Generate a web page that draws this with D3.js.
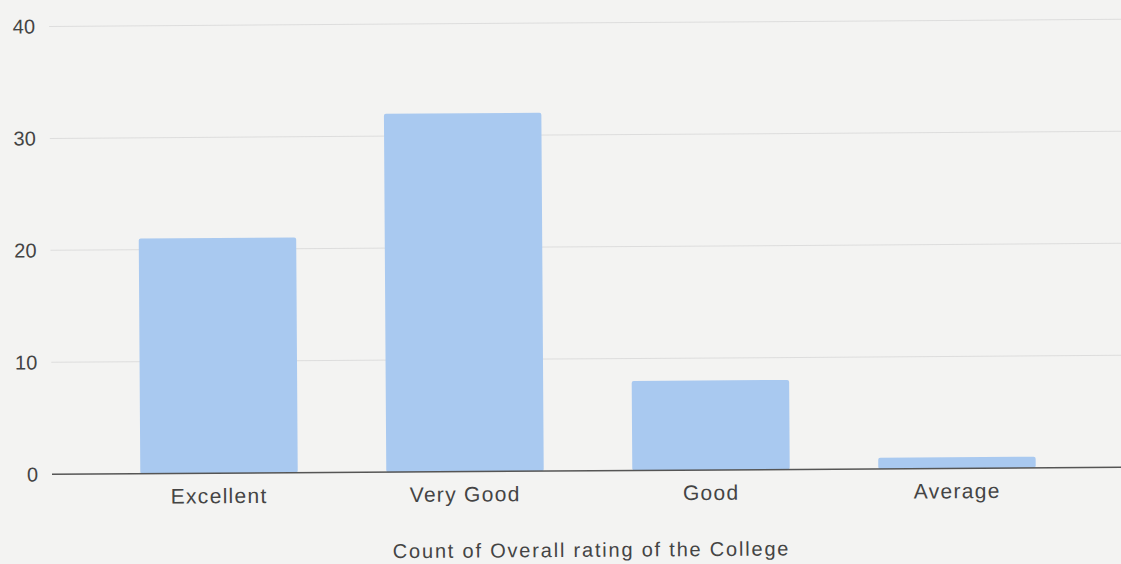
<!DOCTYPE html>
<html><head><meta charset="utf-8">
<script src="https://cdn.jsdelivr.net/npm/d3@7"></script>
<style>
html,body{margin:0;padding:0;background:#f3f3f2;}
svg{display:block;}
text{font-family:"Liberation Sans",Arial,sans-serif;fill:#444;}
</style></head>
<body>
<svg id="c" width="1121" height="564"></svg>
<script>
const categories = ["Excellent", "Very Good", "Good", "Average"];
const counts = [21, 32, 8, 1];
const yTicks = [0, 10, 20, 30, 40];
const xTitle = "Count of Overall rating of the College";

const svg = d3.select("#c");
svg.append("rect").attr("width",1121).attr("height",564).attr("fill","#f3f3f2");
const g = svg.append("g").attr("transform","rotate(-0.38 560 470)");

const x = d3.scaleBand().domain(categories).range([96, 1080]).paddingInner(0.36).paddingOuter(0.18);
const y = d3.scaleLinear().domain([0, 40]).range([471, 23]);

// gridlines
g.append("g").selectAll("line").data(yTicks.filter(d=>d>0)).join("line")
  .attr("x1",52).attr("x2",1125)
  .attr("y1",d=>y(d)).attr("y2",d=>y(d))
  .attr("stroke","#dddddd").attr("stroke-width",1);

// y axis labels
const ya = g.append("g").attr("transform","translate(40,0)")
  .call(d3.axisLeft(y).tickValues(yTicks).tickSize(0).tickPadding(2));
ya.select(".domain").remove();
ya.selectAll("text").attr("font-size",20).attr("fill","#4a4a4a").attr("font-family","Liberation Sans, Arial, sans-serif");

// bars
g.append("g").selectAll("rect").data(categories).join("rect")
  .attr("x",d=>x(d)).attr("width",x.bandwidth())
  .attr("y",(d,i)=>y(counts[i])).attr("height",(d,i)=>y(0)-y(counts[i]))
  .attr("rx",2).attr("fill","#a9c9f0");

// baseline + x axis
const xa = g.append("g").attr("transform",`translate(0,${y(0)})`)
  .call(d3.axisBottom(x).tickSize(0).tickPadding(15));
xa.select(".domain").remove();
xa.selectAll("text").attr("font-size",21).attr("letter-spacing","1.3px").attr("fill","#444").attr("font-family","Liberation Sans, Arial, sans-serif");
g.append("line").attr("x1",52).attr("x2",1125).attr("y1",y(0)).attr("y2",y(0))
  .attr("stroke","#555").attr("stroke-width",1.5);

g.append("text").attr("x",591).attr("y",557).attr("text-anchor","middle")
  .attr("font-size",20).attr("letter-spacing","1.8px").text(xTitle);
</script>
</body></html>
